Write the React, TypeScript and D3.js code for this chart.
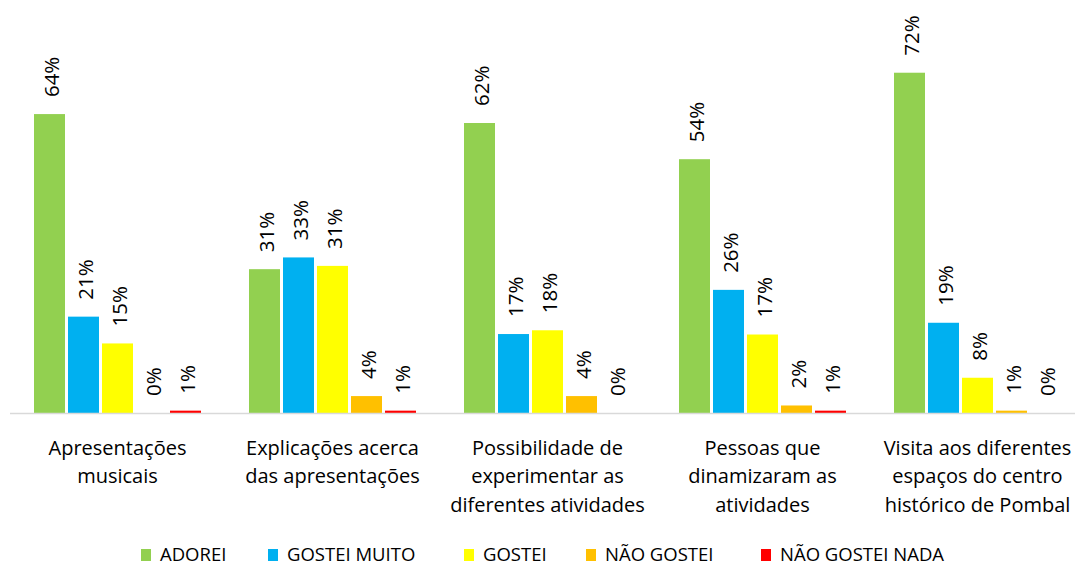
import { useEffect, useRef } from 'react';
import * as d3 from 'd3';

const categories = [
  ['Apresentações', 'musicais'],
  ['Explicações acerca', 'das apresentações'],
  ['Possibilidade de', 'experimentar as', 'diferentes atividades'],
  ['Pessoas que', 'dinamizaram as', 'atividades'],
  ['Visita aos diferentes', 'espaços do centro', 'histórico de Pombal'],
];

const seriesNames = ['ADOREI', 'GOSTEI MUITO', 'GOSTEI', 'NÃO GOSTEI', 'NÃO GOSTEI NADA'];
const seriesColors = ['#92d050', '#00b0f0', '#ffff00', '#ffc000', '#ff0000'];

// percentages (labels show the rounded value)
const adorei = [63.6, 30.6, 61.7, 54.0, 72.4];
const gosteiMuito = [20.5, 33.1, 16.8, 26.2, 19.2];
const gostei = [14.8, 31.3, 17.6, 16.7, 7.5];
const naoGostei = [0, 3.6, 3.6, 1.6, 0.5];
const naoGosteiNada = [0.5, 0.5, 0, 0.5, 0];

const seriesValues = [adorei, gosteiMuito, gostei, naoGostei, naoGosteiNada];

const FONT = '"Open Sans", sans-serif';

export default function App() {
  const svgRef = useRef<SVGSVGElement>(null);

  useEffect(() => {
    if (!svgRef.current) return;
    const width = 1075;
    const height = 566;
    const svg = d3.select(svgRef.current);
    svg.selectAll('*').remove();
    svg.attr('width', width).attr('height', height);

    const baseline = 413;

    const catKeys = categories.map((_, i) => String(i));
    const x0 = d3.scaleBand().domain(catKeys).range([10, 1085]).padding(0);
    const x1 = d3.scaleBand().domain(seriesNames).range([24, 191]).paddingInner(3 / 34).paddingOuter(0);
    const y = d3.scaleLinear().domain([0, 80]).range([baseline, baseline - 376]);

    const g = svg.append('g');

    // bars + labels
    categories.forEach((_, ci) => {
      const grp = g.append('g').attr('transform', `translate(${x0(String(ci))}, 0)`);
      seriesNames.forEach((name, si) => {
        const v = seriesValues[si][ci];
        const bx = x1(name) || 0;
        if (v > 0) {
          grp.append('rect')
            .attr('x', bx)
            .attr('y', y(v))
            .attr('width', x1.bandwidth())
            .attr('height', baseline - y(v))
            .attr('fill', seriesColors[si]);
        }
        const cx = bx + x1.bandwidth() / 2;
        const ly = y(v) - 17;
        grp.append('text')
          .attr('transform', `translate(${cx + 9}, ${ly}) rotate(-90)`)
          .attr('font-family', FONT)
          .attr('font-size', 20.5)
          .attr('fill', '#000')
          .attr('text-anchor', 'start')
          .text(`${Math.round(v)}%`);
      });

      const lines = categories[ci];
      const t = grp.append('text')
        .attr('font-family', FONT)
        .attr('font-size', 20)
        .attr('fill', '#000')
        .attr('text-anchor', 'middle');
      lines.forEach((line, li) => {
        t.append('tspan')
          .attr('x', x0.bandwidth() / 2)
          .attr('y', 455 + li * 28.3)
          .text(line);
      });
    });

    // axis line
    g.append('line')
      .attr('x1', 10)
      .attr('x2', width)
      .attr('y1', baseline + 0.5)
      .attr('y2', baseline + 0.5)
      .attr('stroke', '#d9d9d9')
      .attr('stroke-width', 1.5);

    // legend
    const legendX = [141, 268, 464, 586, 761];
    const legend = svg.append('g');
    seriesNames.forEach((name, i) => {
      legend.append('rect')
        .attr('x', legendX[i])
        .attr('y', 549)
        .attr('width', 10)
        .attr('height', 12)
        .attr('fill', seriesColors[i]);
      legend.append('text')
        .attr('x', legendX[i] + 19)
        .attr('y', 561)
        .attr('font-family', FONT)
        .attr('font-size', 18.5)
        .attr('fill', '#000')
        .text(name);
    });
  }, []);

  return (
    <div style={{ position: 'absolute', left: 0, top: 0, background: '#fff' }}>
      <svg ref={svgRef} style={{ display: 'block' }}></svg>
    </div>
  );
}
